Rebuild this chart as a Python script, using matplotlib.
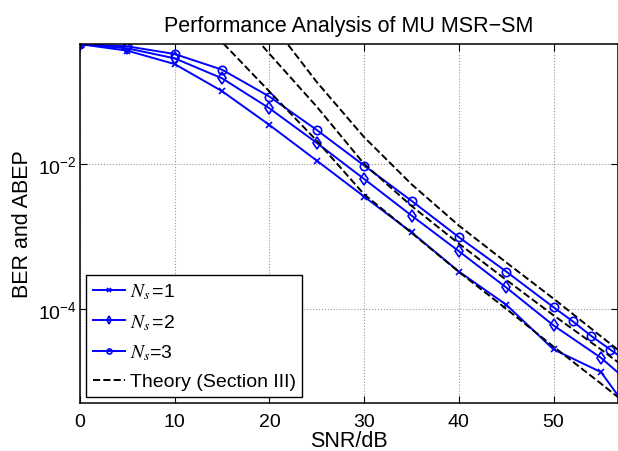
import numpy as np
import matplotlib
matplotlib.use("Agg")
import matplotlib.pyplot as plt
from matplotlib.ticker import FixedLocator, NullLocator

plt.rcParams['font.family'] = ['Liberation Sans', 'DejaVu Sans']
plt.rcParams['mathtext.fontset'] = 'stix'

# simulated BER
snr_ns1 = [0, 5, 10, 15, 20, 25, 30, 35, 40, 45, 50, 55, 60]
ber_ns1 = [0.45, 0.366, 0.239, 0.101, 0.0345, 0.0111, 3.54e-3, 1.14e-3,
           3.27e-4, 1.14e-4, 2.75e-5, 1.34e-5, 1.7e-6]
snr_ns2 = [0, 5, 10, 15, 20, 25, 30, 35, 40, 45, 50, 55, 60]
ber_ns2 = [0.45, 0.394, 0.287, 0.152, 0.0586, 0.0195, 6.2e-3, 1.94e-3,
           6.24e-4, 1.97e-4, 5.89e-5, 2.11e-5, 5.7e-6]
snr_ns3 = [0, 5, 10, 15, 20, 25, 30, 35, 40, 45, 50, 52, 54, 56, 58]
ber_ns3 = [0.45, 0.42, 0.329, 0.2, 0.085, 0.0294, 9.5e-3, 3.1e-3,
           9.75e-4, 3.27e-4, 1.05e-4, 6.76e-5, 4.2e-5, 2.73e-5, 1.8e-5]

# theoretical ABEP (Section III)
snr_th1 = [10, 15, 20, 25, 30, 35, 40, 45, 50, 55, 60]
abep_th1 = [2.3, 0.48, 0.1, 0.0209, 3.8e-3, 1.12e-3, 3.24e-4, 1.0e-4, 3.0e-5, 9.3e-6, 2.8e-6]
snr_th2 = [15, 20, 25, 30, 35, 40, 45, 50, 55, 60]
abep_th2 = [1.86, 0.331, 0.0617, 0.01, 2.63e-3, 7.94e-4, 2.51e-4, 8.13e-5, 2.75e-5, 8.9e-6]
snr_th3 = [20, 25, 30, 35, 40, 45, 50, 55, 60]
abep_th3 = [0.955, 0.135, 0.0234, 5.25e-3, 1.41e-3, 4.37e-4, 1.38e-4, 4.17e-5, 1.26e-5]

fig = plt.figure(figsize=(6.18, 4.52), dpi=100)
ax = fig.add_axes([0.1294, 0.106, 0.8706, 0.795])

ax.semilogy(snr_ns1, ber_ns1, 'b-x', lw=1.4, ms=5, mew=1.2, label=r'$N_s\,$=1')
ax.semilogy(snr_ns2, ber_ns2, 'b-d', lw=1.4, ms=6.5, mew=1.2, mfc='none', label=r'$N_s\,$=2')
ax.semilogy(snr_ns3, ber_ns3, 'b-o', lw=1.4, ms=6, mew=1.2, mfc='none', label=r'$N_s$=3')
ax.semilogy(snr_th1, abep_th1, 'k--', lw=1.4, label='Theory (Section III)')
ax.semilogy(snr_th2, abep_th2, 'k--', lw=1.4)
ax.semilogy(snr_th3, abep_th3, 'k--', lw=1.4)

ax.set_xlim(0, 56.8)
ax.set_ylim(5e-6, 0.456)
ax.set_xticks([0, 10, 20, 30, 40, 50])
ax.yaxis.set_major_locator(FixedLocator([1e-6, 1e-4, 1e-2, 1]))
ax.yaxis.set_minor_locator(NullLocator())
ax.tick_params(direction='in', top=True, right=True, labelsize=14, length=5, width=0.8)
ax.tick_params(axis='x', pad=7)
ax.tick_params(axis='y', pad=2)
ax.grid(True, linestyle=':', color='#999999', lw=0.8)
for s in ax.spines.values():
    s.set_linewidth(1.1)

ax.set_xlabel('SNR/dB', fontsize=15.5, labelpad=0)
ax.set_ylabel('BER and ABEP', fontsize=15.5, labelpad=4)
ax.set_title('Performance Analysis of MU MSR\u2212SM', fontsize=15.5, pad=9)

leg = ax.legend(loc='lower left', fontsize=14, borderaxespad=0.3, labelspacing=0.55,
                handlelength=1.65, handletextpad=0.25, borderpad=0.35, fancybox=False,
                framealpha=1, edgecolor='black', markerscale=0.6)
leg.get_frame().set_linewidth(1.0)

fig.savefig('out.png', dpi=100)
